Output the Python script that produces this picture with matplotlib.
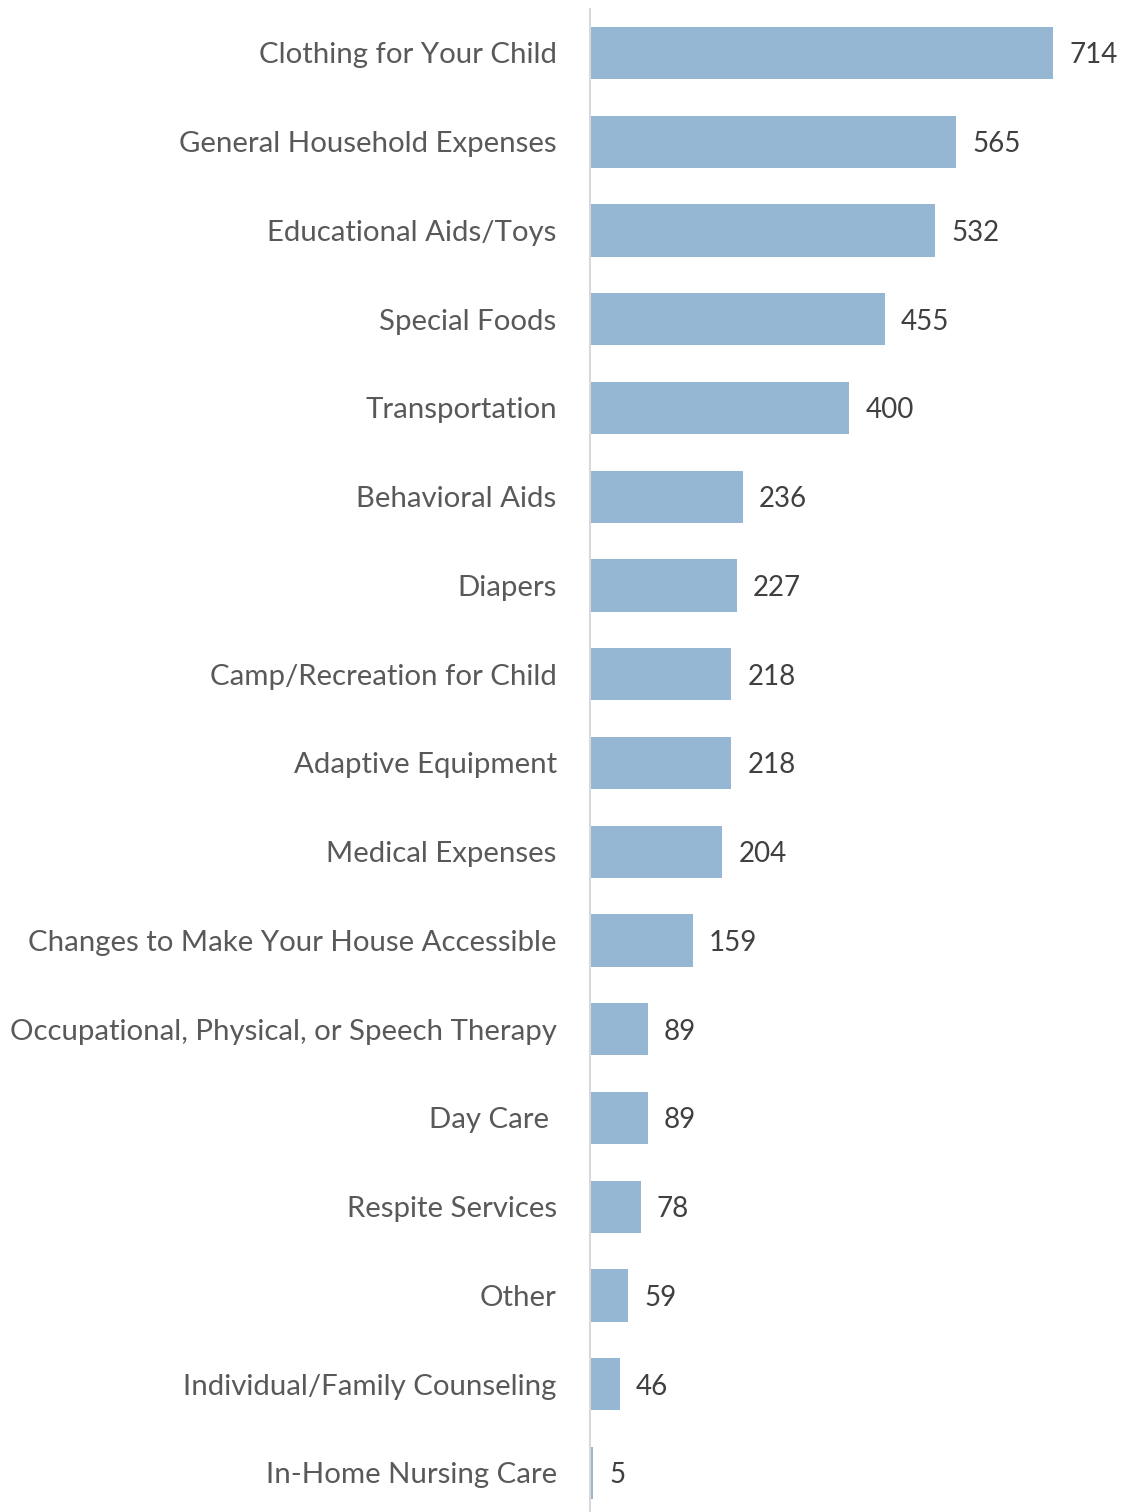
import numpy as np
from matplotlib import pyplot as plt

categories = [
    "Clothing for Your Child",
    "General Household Expenses",
    "Educational Aids/Toys",
    "Special Foods",
    "Transportation",
    "Behavioral Aids",
    "Diapers",
    "Camp/Recreation for Child",
    "Adaptive Equipment",
    "Medical Expenses",
    "Changes to Make Your House Accessible",
    "Occupational, Physical, or Speech Therapy",
    "Day Care ",
    "Respite Services",
    "Other",
    "Individual/Family Counseling",
    "In-Home Nursing Care",
]
counts = [714, 565, 532, 455, 400, 236, 227, 218, 218, 204, 159, 89, 89, 78, 59, 46, 5]

plt.rcParams['font.family'] = ['Lato', 'DejaVu Sans']

W, H = 1121, 1512
fig = plt.figure(figsize=(W / 100, H / 100), dpi=100)
left_px, top_px = 590, 8.6
ax = fig.add_axes([left_px / W, 0, 1 - left_px / W, 1 - top_px / H])

y = np.arange(len(categories))
ax.barh(y, counts, height=0.59, color='#95b7d4', zorder=2)

band = 88.75
ax.set_ylim((H - top_px) / band - 0.5, -0.5)
ax.set_xlim(0, (W - left_px) / 0.6485)

# value labels just right of each bar
for yi, v in zip(y, counts):
    ax.annotate(str(v), (v, yi), xytext=(11.5, 0), textcoords='offset points',
                ha='left', va='center_baseline', fontsize=20, color='#404040')

ax.set_yticks(y)
ax.set_yticklabels(categories, fontsize=21.2, color='#595959')
ax.tick_params(axis='y', length=0, pad=24)
ax.set_xticks([])
for s in ['top', 'right', 'bottom']:
    ax.spines[s].set_visible(False)
ax.spines['left'].set_color('#d9d9d9')
ax.spines['left'].set_linewidth(1.5)

fig.savefig('out.png', dpi=100)
